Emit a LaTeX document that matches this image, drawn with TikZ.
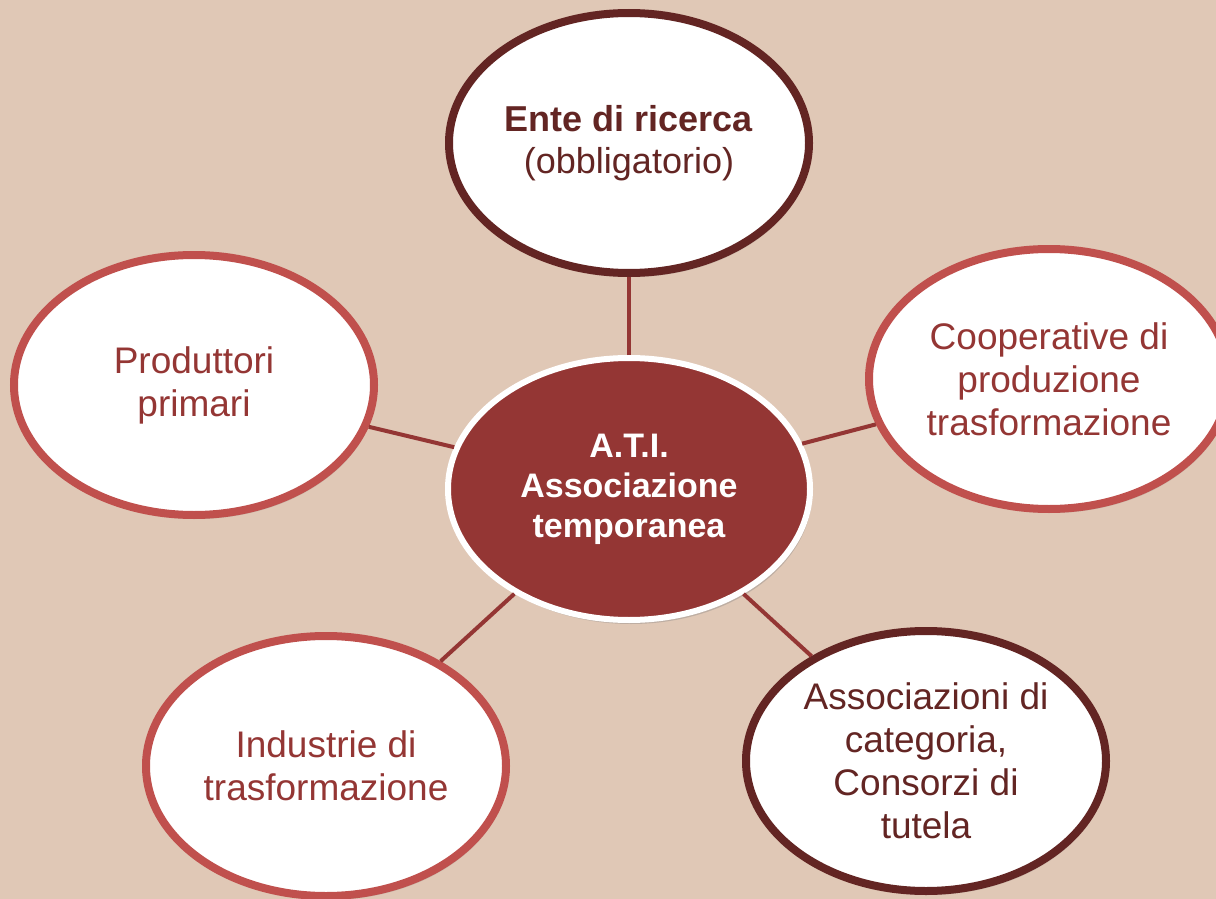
\documentclass[tikz,border=0pt]{standalone}
\usepackage{fontspec}
\setmainfont{Liberation Sans}
\usetikzlibrary{shapes.geometric,shadows}
\definecolor{bgbeige}{RGB}{224,200,182}
\definecolor{atired}{HTML}{943634}
\definecolor{rimred}{HTML}{C0504D}
\definecolor{rimdark}{HTML}{632523}

\begin{document}
\begin{tikzpicture}
  [x=0.5pt,y=-0.5pt,
   bubble/.style={ellipse,fill=white,line width=4pt,minimum width=180pt,minimum height=130pt,
     inner sep=0pt,align=center,font=\fontsize{18.5}{21.5}\selectfont,
     drop shadow={opacity=0.25,shadow xshift=1pt,shadow yshift=-2pt}},
   redbub/.style={bubble,draw=rimred,text=atired},
   darkbub/.style={bubble,draw=rimdark,text=rimdark},
   hub/.style={ellipse,fill=atired,draw=white,line width=3pt,minimum width=181pt,minimum height=131pt,
     inner sep=0pt,align=center,text=white,font=\fontsize{17}{20}\selectfont\bfseries,
     drop shadow={opacity=0.35,shadow xshift=1pt,shadow yshift=-2pt}},
   link/.style={atired,line width=2pt}]
  \useasboundingbox (0,0) rectangle (1216,899);
  \fill[bgbeige] (0,0) rectangle (1216,899);

  \node[hub] (ati) at (629,489) {A.T.I.\\Associazione\\temporanea};
  \node[darkbub,font=\fontsize{18}{21}\selectfont] (ente) at (629,143) {\textbf{Ente di ricerca}\\(obbligatorio)};
  \node[redbub] (coop) at (1049,379) {Cooperative di\\produzione\\trasformazione};
  \node[darkbub] (assoc) at (926,761) {Associazioni di\\categoria,\\Consorzi di\\tutela};
  \node[redbub] (ind) at (326,766) {Industrie di\\trasformazione};
  \node[redbub] (prod) at (194,385) {Produttori\\primari};

  \foreach \to in {ente,coop,assoc,ind,prod}
    \draw[link] (ati) -- (\to);

\end{tikzpicture}
\end{document}
